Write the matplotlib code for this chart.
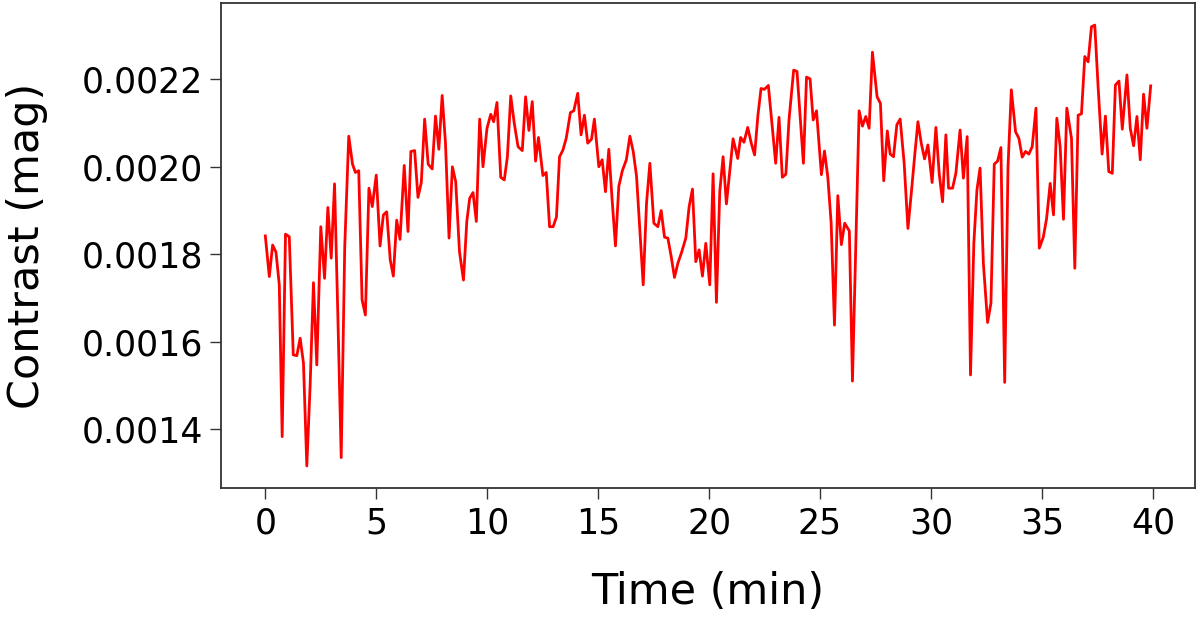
import matplotlib
matplotlib.use("Agg")
import matplotlib.pyplot as plt

time_min = [
    0.00, 0.18, 0.33, 0.48, 0.63, 0.76, 0.91, 1.08, 1.26, 1.42, 1.57, 1.72, 1.87, 2.02, 2.17, 2.32,
    2.50, 2.67, 2.82, 2.97, 3.12, 3.27, 3.42, 3.58, 3.76, 3.93, 4.06, 4.21, 4.36, 4.51, 4.67, 4.82,
    5.00, 5.17, 5.32, 5.47, 5.63, 5.77, 5.92, 6.07, 6.26, 6.43, 6.56, 6.73, 6.88, 7.03, 7.18, 7.34,
    7.52, 7.67, 7.82, 7.97, 8.12, 8.28, 8.43, 8.58, 8.75, 8.93, 9.08, 9.21, 9.36, 9.51, 9.66, 9.81,
    9.99, 10.16, 10.29, 10.44, 10.61, 10.77, 10.91, 11.06, 11.22, 11.39, 11.58, 11.73, 11.88, 12.03,
    12.18, 12.31, 12.51, 12.66, 12.81, 12.97, 13.12, 13.26, 13.41, 13.56, 13.75, 13.90, 14.08, 14.23,
    14.38, 14.53, 14.70, 14.83, 15.03, 15.18, 15.33, 15.48, 15.63, 15.78, 15.93, 16.09, 16.27, 16.43,
    16.58, 16.73, 16.88, 17.03, 17.18, 17.33, 17.51, 17.69, 17.84, 17.99, 18.14, 18.29, 18.44, 18.59,
    18.77, 18.95, 19.10, 19.25, 19.40, 19.55, 19.70, 19.85, 20.03, 20.18, 20.33, 20.48, 20.63, 20.78,
    20.93, 21.08, 21.29, 21.42, 21.57, 21.74, 21.90, 22.05, 22.20, 22.34, 22.49, 22.67, 22.83, 23.00,
    23.15, 23.30, 23.46, 23.60, 23.81, 23.96, 24.10, 24.25, 24.39, 24.55, 24.69, 24.84, 25.06, 25.20,
    25.35, 25.50, 25.65, 25.80, 25.96, 26.11, 26.32, 26.46, 26.61, 26.76, 26.91, 27.06, 27.21, 27.36,
    27.57, 27.72, 27.87, 28.03, 28.16, 28.31, 28.46, 28.61, 28.79, 28.96, 29.11, 29.26, 29.41, 29.56,
    29.71, 29.86, 30.05, 30.22, 30.37, 30.52, 30.67, 30.79, 30.97, 31.12, 31.31, 31.46, 31.63, 31.78,
    31.93, 32.07, 32.21, 32.36, 32.55, 32.70, 32.85, 33.00, 33.15, 33.32, 33.47, 33.62, 33.81, 33.96,
    34.11, 34.26, 34.41, 34.56, 34.73, 34.88, 35.06, 35.21, 35.37, 35.52, 35.67, 35.82, 35.97, 36.12,
    36.33, 36.48, 36.63, 36.78, 36.93, 37.08, 37.23, 37.38, 37.53, 37.71, 37.86, 38.01, 38.17, 38.31,
    38.47, 38.62, 38.83, 38.98, 39.13, 39.28, 39.43, 39.58, 39.73, 39.90,
]

contrast_mag = [
    0.001842, 0.001749, 0.001821, 0.001805, 0.001730, 0.001383, 0.001846, 0.001840, 0.001570, 0.001568,
    0.001608, 0.001551, 0.001316, 0.001500, 0.001735, 0.001547, 0.001863, 0.001745, 0.001907, 0.001791,
    0.001961, 0.001658, 0.001335, 0.001818, 0.002070, 0.002006, 0.001987, 0.001991, 0.001696, 0.001661,
    0.001951, 0.001909, 0.001981, 0.001819, 0.001890, 0.001897, 0.001787, 0.001750, 0.001878, 0.001834,
    0.002003, 0.001852, 0.002035, 0.002037, 0.001930, 0.001964, 0.002109, 0.002006, 0.001995, 0.002116,
    0.002040, 0.002163, 0.002054, 0.001837, 0.002000, 0.001966, 0.001806, 0.001741, 0.001875, 0.001928,
    0.001941, 0.001875, 0.002109, 0.002000, 0.002088, 0.002120, 0.002103, 0.002147, 0.001976, 0.001970,
    0.002023, 0.002162, 0.002099, 0.002046, 0.002037, 0.002160, 0.002083, 0.002149, 0.002013, 0.002067,
    0.001980, 0.001987, 0.001863, 0.001863, 0.001885, 0.002023, 0.002038, 0.002065, 0.002124, 0.002128,
    0.002168, 0.002073, 0.002118, 0.002054, 0.002063, 0.002109, 0.002000, 0.002016, 0.001943, 0.002040,
    0.001924, 0.001819, 0.001955, 0.001991, 0.002016, 0.002070, 0.002035, 0.001978, 0.001856, 0.001730,
    0.001917, 0.002008, 0.001871, 0.001863, 0.001900, 0.001839, 0.001837, 0.001795, 0.001747, 0.001779,
    0.001806, 0.001837, 0.001909, 0.001949, 0.001783, 0.001810, 0.001750, 0.001825, 0.001730, 0.001984,
    0.001690, 0.001943, 0.002023, 0.001915, 0.001989, 0.002064, 0.002019, 0.002067, 0.002056, 0.002090,
    0.002054, 0.002027, 0.002118, 0.002179, 0.002177, 0.002186, 0.002099, 0.002008, 0.002113, 0.001976,
    0.001983, 0.002107, 0.002221, 0.002218, 0.002115, 0.002008, 0.002205, 0.002201, 0.002107, 0.002128,
    0.001982, 0.002036, 0.001976, 0.001871, 0.001638, 0.001934, 0.001822, 0.001871, 0.001853, 0.001510,
    0.001818, 0.002128, 0.002093, 0.002115, 0.002088, 0.002262, 0.002160, 0.002145, 0.001968, 0.002082,
    0.002029, 0.002023, 0.002096, 0.002109, 0.002008, 0.001859, 0.001939, 0.002023, 0.002103, 0.002054,
    0.002018, 0.002050, 0.001964, 0.002090, 0.001984, 0.001920, 0.002073, 0.001951, 0.001951, 0.001985,
    0.002084, 0.001974, 0.002069, 0.001524, 0.001825, 0.001947, 0.001997, 0.001779, 0.001644, 0.001688,
    0.002006, 0.002013, 0.002044, 0.001507, 0.002000, 0.002176, 0.002080, 0.002065, 0.002022, 0.002035,
    0.002029, 0.002046, 0.002134, 0.001814, 0.001839, 0.001882, 0.001962, 0.001890, 0.002111, 0.002046,
    0.001880, 0.002134, 0.002065, 0.001768, 0.002118, 0.002121, 0.002252, 0.002240, 0.002320, 0.002324,
    0.002183, 0.002029, 0.002116, 0.001989, 0.001985, 0.002187, 0.002196, 0.002086, 0.002210, 0.002088,
    0.002048, 0.002115, 0.002016, 0.002166, 0.002088, 0.002185,
]

x_ticks = [0, 5, 10, 15, 20, 25, 30, 35, 40]
y_ticks = [0.0014, 0.0016, 0.0018, 0.0020, 0.0022]
y_tick_labels = ["0.0014", "0.0016", "0.0018", "0.0020", "0.0022"]

fig = plt.figure(figsize=(12, 6.17), dpi=100)
ax = fig.add_axes([0.1842, 0.2091, 0.8116, 0.786])
ax.plot(time_min, contrast_mag, color="red", linewidth=2.0)

ax.set_xticks(x_ticks)
ax.set_yticks(y_ticks)
ax.set_yticklabels(y_tick_labels)
ax.tick_params(axis="both", labelsize=25, length=8, width=1.0, color="#333333", pad=5)
for sp in ax.spines.values():
    sp.set_color("#333333")
    sp.set_linewidth(1.3)

ax.set_xlabel("Time (min)", fontsize=31, labelpad=22)
ax.set_ylabel("Contrast (mag)", fontsize=31, labelpad=24)

fig.savefig("out.png", dpi=100, facecolor="white")
